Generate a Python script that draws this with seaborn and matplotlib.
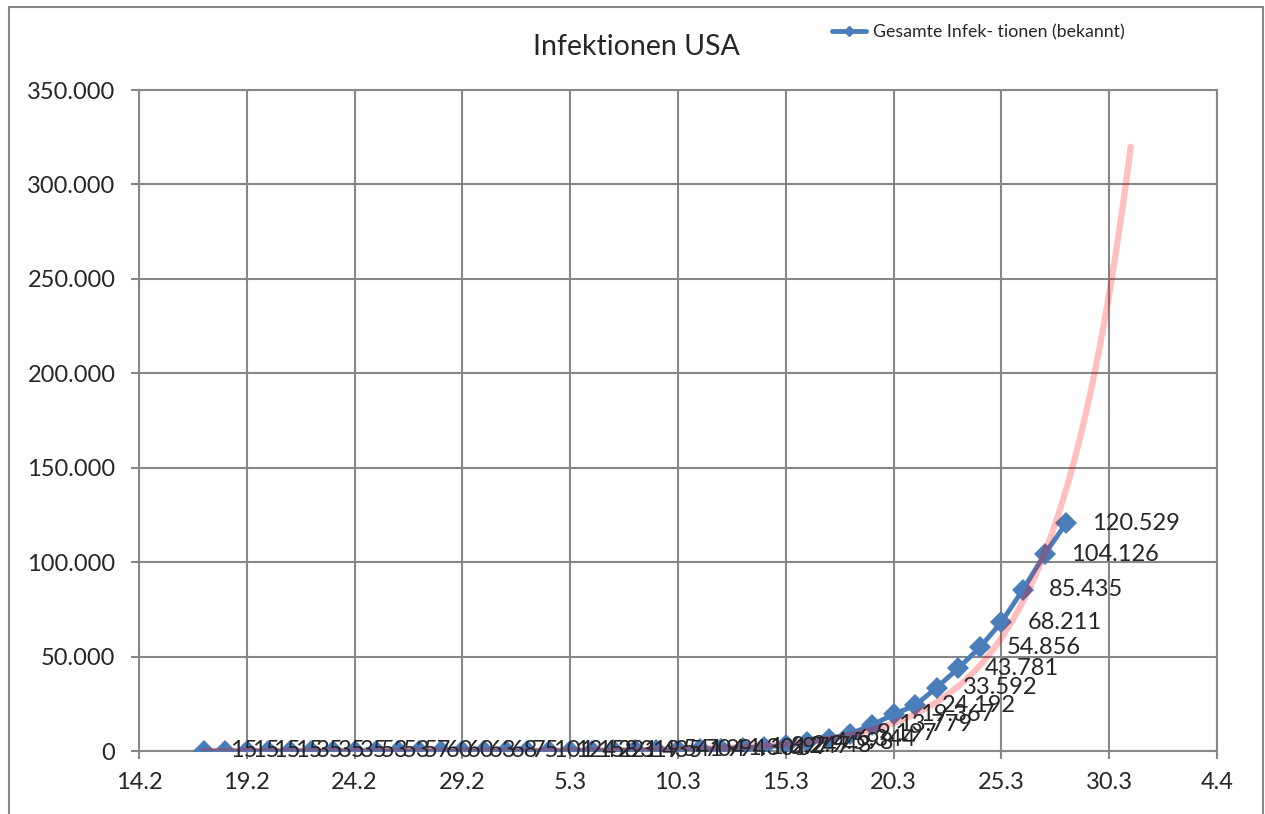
import matplotlib
matplotlib.use("Agg")
import matplotlib.dates as mdates
import matplotlib.pyplot as plt
import numpy as np
import pandas as pd
import seaborn as sns
from matplotlib.lines import Line2D
from matplotlib.patches import Rectangle
from matplotlib.ticker import FuncFormatter

# daily totals, 17.2. - 28.3.2020
dates = [
    "2020-02-17", "2020-02-18", "2020-02-19", "2020-02-20", "2020-02-21",
    "2020-02-22", "2020-02-23", "2020-02-24", "2020-02-25", "2020-02-26",
    "2020-02-27", "2020-02-28", "2020-02-29", "2020-03-01", "2020-03-02",
    "2020-03-03", "2020-03-04", "2020-03-05", "2020-03-06", "2020-03-07",
    "2020-03-08", "2020-03-09", "2020-03-10", "2020-03-11", "2020-03-12",
    "2020-03-13", "2020-03-14", "2020-03-15", "2020-03-16", "2020-03-17",
    "2020-03-18", "2020-03-19", "2020-03-20", "2020-03-21", "2020-03-22",
    "2020-03-23", "2020-03-24", "2020-03-25", "2020-03-26", "2020-03-27",
    "2020-03-28",
]
cases = [
    15, 15, 15, 15, 35, 35, 35, 53, 53, 57, 60, 60, 63,
    68, 75, 101, 124, 158, 221, 319, 435, 541, 704, 994, 1301,
    1697, 2247, 2943, 4598, 6344, 9197, 13779, 19367, 24192, 33592,
    43781, 54856, 68211, 85435, 104126, 120529,
]
x_ticks = [
    "2020-02-14", "2020-02-19", "2020-02-24", "2020-02-29", "2020-03-05",
    "2020-03-10", "2020-03-15", "2020-03-20", "2020-03-25", "2020-03-30",
    "2020-04-04",
]
y_ticks = [0, 50000, 100000, 150000, 200000, 250000, 300000, 350000]
title = "Infektionen USA"
series_name = "Gesamte Infek- tionen (bekannt)"

# exponential trend line (log-linear fit, extended to 31.3.)
trend_fit_from = "2020-02-26"
trend_until = "2020-03-31"

BLUE = "#4A7EBB"
GRID = "#878787"

sns.set_style("white")
plt.rcParams["font.family"] = ["Lato", "DejaVu Sans"]


def thousands(v, _pos=None):
    return f"{int(round(v)):,}".replace(",", ".")


def day_month(v, _pos=None):
    d = mdates.num2date(v)
    return f"{d.day}.{d.month}"


df = pd.DataFrame({"date": pd.to_datetime(dates), "cases": cases})

start = df["date"].iloc[0]
fit = df[df["date"] >= pd.Timestamp(trend_fit_from)]
fit_days = (fit["date"] - start).dt.days.to_numpy(dtype=float)
slope, intercept = np.polyfit(fit_days, np.log(fit["cases"].to_numpy(dtype=float)), 1)
curve_days = np.linspace(0, (pd.Timestamp(trend_until) - start).days, 400)
trend = pd.DataFrame({
    "date": start + pd.to_timedelta(curve_days, unit="D"),
    "cases": np.exp(intercept + slope * curve_days),
})

fig = plt.figure(figsize=(12.65, 8.14), dpi=100)
ax = fig.add_axes([139 / 1265, 63 / 814, 1078 / 1265, 661 / 814])

sns.lineplot(data=df, x="date", y="cases", ax=ax, color=BLUE, linewidth=3.5,
             marker="D", markersize=11.5, markeredgewidth=0, zorder=3)
sns.lineplot(data=trend, x="date", y="cases", ax=ax, color="red", alpha=0.25,
             linewidth=4.5, solid_capstyle="round", zorder=4)

for d, v in zip(df["date"], df["cases"]):
    ax.annotate(thousands(v), (d, v), xytext=(19, 0), textcoords="offset points",
                ha="left", va="center", fontsize=17, zorder=5)

ax.set_xlim(pd.Timestamp(x_ticks[0]), pd.Timestamp(x_ticks[-1]))
ax.set_xticks(pd.to_datetime(x_ticks))
ax.xaxis.set_major_formatter(FuncFormatter(day_month))
ax.set_ylim(y_ticks[0], y_ticks[-1])
ax.set_yticks(y_ticks)
ax.yaxis.set_major_formatter(FuncFormatter(thousands))
ax.set_xlabel("")
ax.set_ylabel("")

ax.grid(True, color=GRID, linewidth=1.5)
ax.tick_params(axis="both", length=6, width=1.5, color=GRID, labelsize=17,
               bottom=True, left=True)
ax.tick_params(axis="x", pad=9)
ax.tick_params(axis="y", pad=11)
for spine in ax.spines.values():
    spine.set_color(GRID)
    spine.set_linewidth(1.5)

fig.text(0.503, 1 - 47 / 814, title, ha="center", va="center", fontsize=20.5)

handle = Line2D([], [], color=BLUE, linewidth=3.5, marker="D", markersize=5)
fig.legend([handle], [series_name], loc="center left",
           bbox_to_anchor=(832 / 1265, 1 - 32 / 814), frameon=False, fontsize=12.8,
           handlelength=1.9, handletextpad=0.4, borderpad=0, borderaxespad=0)

fig.add_artist(Rectangle((9 / 1265, -0.05), 1254 / 1265, 1.05 - 7 / 814,
                         transform=fig.transFigure, fill=False,
                         edgecolor=GRID, linewidth=1.5))

fig.savefig("out.png", dpi=100)
